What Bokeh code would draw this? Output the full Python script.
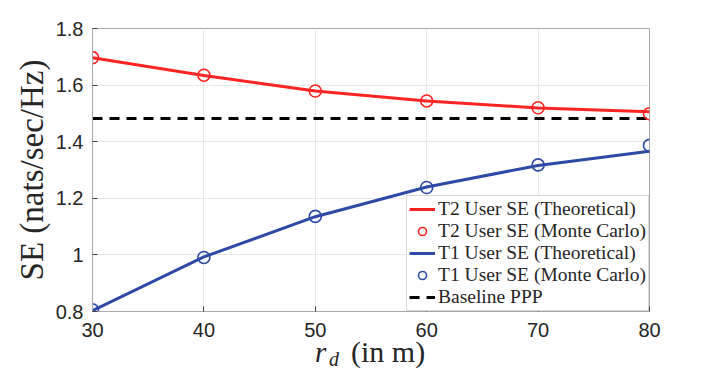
from bokeh.plotting import figure
from bokeh.models import Label, Legend, LegendItem
from bokeh.embed import file_html
from bokeh.resources import INLINE

# ---- data ----
rd = [30, 40, 50, 60, 70, 80]
t2_theory = [1.697, 1.634, 1.579, 1.544, 1.519, 1.506]
t2_mc = [1.697, 1.635, 1.579, 1.544, 1.520, 1.499]
t1_theory = [0.803, 0.993, 1.135, 1.240, 1.316, 1.366]
t1_mc = [0.806, 0.991, 1.136, 1.238, 1.318, 1.387]
baseline = [1.482] * len(rd)
x_ticks = [30, 40, 50, 60, 70, 80]
y_ticks = [0.8, 1.0, 1.2, 1.4, 1.6, 1.8]
y_tick_labels = {0.8: "0.8", 1.0: "1", 1.2: "1.2", 1.4: "1.4", 1.6: "1.6", 1.8: "1.8"}

RED = "#ff2424"
BLUE = "#2e4aa6"
SERIF = "Liberation Serif"
SANS = "Liberation Sans"

p = figure(frame_width=557, frame_height=283, x_range=(30, 80), y_range=(0.8, 1.8),
           min_border_left=92, min_border_right=55, min_border_top=28, min_border_bottom=53,
           output_backend="svg", toolbar_location=None)
p.background_fill_color = "white"
p.border_fill_color = "white"
p.outline_line_color = "#a8a8a8"
p.outline_line_width = 1

for ax in (p.xaxis[0], p.yaxis[0]):
    ax.axis_line_color = "#a8a8a8"
    ax.major_tick_line_color = "#404040"
    ax.major_tick_in = 5
    ax.major_tick_out = 0
    ax.minor_tick_line_color = None
    ax.major_label_text_font = SANS
    ax.major_label_text_font_size = "20px"
    ax.major_label_text_color = "#262626"

p.xaxis.ticker = x_ticks
p.yaxis.ticker = y_ticks
p.yaxis.major_label_overrides = y_tick_labels
p.xaxis.major_label_standoff = 11
p.yaxis.major_label_standoff = 9

p.yaxis.axis_label = "SE (nats/sec/Hz)"
p.yaxis.axis_label_text_font = SERIF
p.yaxis.axis_label_text_font_style = "normal"
p.yaxis.axis_label_text_font_size = "33px"
p.yaxis.axis_label_text_color = "#262626"
p.yaxis.axis_label_standoff = 3

p.xgrid.grid_line_color = "#e8e8e8"
p.ygrid.grid_line_color = "#e8e8e8"
p.xgrid.ticker = x_ticks
p.ygrid.ticker = y_ticks

r_base = p.line(rd, baseline, line_color="black", line_width=3, line_dash="10 7")
r_t2l = p.line(rd, t2_theory, line_color=RED, line_width=3)
r_t2m = p.scatter(rd, t2_mc, marker="circle", size=12, line_color=RED, line_width=1.6,
                  fill_color=None)
r_t1l = p.line(rd, t1_theory, line_color=BLUE, line_width=3)
r_t1m = p.scatter(rd, t1_mc, marker="circle", size=12, line_color=BLUE, line_width=1.6,
                  fill_color=None)

legend = Legend(items=[
    LegendItem(label="T2 User SE (Theoretical)", renderers=[r_t2l]),
    LegendItem(label="T2 User SE (Monte Carlo)", renderers=[r_t2m]),
    LegendItem(label="T1 User SE (Theoretical)", renderers=[r_t1l]),
    LegendItem(label="T1 User SE (Monte Carlo)", renderers=[r_t1m]),
    LegendItem(label="Baseline PPP", renderers=[r_base]),
], location="bottom_right")
legend.margin = 0
legend.padding = 2
legend.spacing = 0
legend.label_height = 20
legend.glyph_height = 20
legend.glyph_width = 26
legend.label_standoff = 3
legend.label_text_font = SERIF
legend.label_text_font_size = "19.5px"
legend.label_text_color = "#262626"
legend.border_line_color = "#b0b0b0"
legend.border_line_width = 1
legend.background_fill_color = "white"
legend.background_fill_alpha = 1
p.add_layout(legend, "center")

# x-axis label: r_d (in m), anchored at the middle of the x range, in the below panel
x_mid = (x_ticks[0] + x_ticks[-1]) / 2
y_bot = y_ticks[0]
p.add_layout(Label(x=x_mid, y=y_bot, text="r",
                   text_font=SERIF, text_font_style="italic", text_font_size="29px",
                   text_color="#262626", text_align="left", text_baseline="middle",
                   x_offset=-56, y_offset=-40), "below")
p.add_layout(Label(x=x_mid, y=y_bot, text="d",
                   text_font=SERIF, text_font_style="italic", text_font_size="20px",
                   text_color="#262626", text_align="left", text_baseline="middle",
                   x_offset=-42, y_offset=-47), "below")
p.add_layout(Label(x=x_mid, y=y_bot, text="(in m)",
                   text_font=SERIF, text_font_size="30px",
                   text_color="#262626", text_align="left", text_baseline="middle",
                   x_offset=-20, y_offset=-40), "below")

open("out.html", "w").write(file_html(p, INLINE))
